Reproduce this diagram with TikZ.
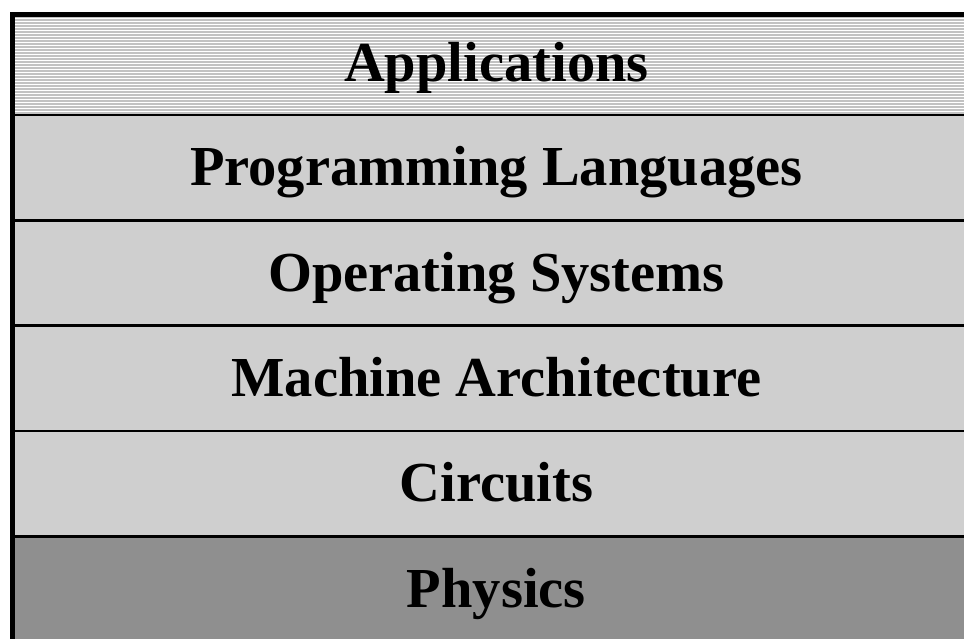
\documentclass[tikz,border=0pt]{standalone}
\usepackage{fontspec}
\setmainfont{Liberation Serif}
\usetikzlibrary{positioning}

\begin{document}
\begin{tikzpicture}[
    x=1pt, y=-1pt,
    layer/.style={rectangle,inner sep=0pt,minimum width=967.5pt,minimum height=105pt,
        text height=44pt,text depth=8pt,fill=black!19,
        font=\bfseries\fontsize{56.5}{60}\selectfont},
    toplayer/.style={layer,fill=none,minimum height=102.5pt},
    bottomlayer/.style={layer,fill=black!44},
    stripe/.style={draw=black!24,line width=1.1pt},
    divider/.style={draw=black,line width=2.6pt},
    frame/.style={draw=black,line width=5pt}
]
    \useasboundingbox (0,0) rectangle (964,639);
    \fill[white] (0,0) rectangle (964,639);

    % Stripes of the top layer
    \foreach \y in {14,17,...,113}
        \draw[stripe] (15,\y) -- (980,\y);

    % Nodes
    \node[toplayer,anchor=north west] (apps) at (12.5,12) {Applications};
    \node[layer] (lang) [below=0pt of apps] {Programming Languages};
    \node[layer] (os) [below=0pt of lang] {Operating Systems};
    \node[layer] (arch) [below=0pt of os] {Machine Architecture};
    \node[layer] (circ) [below=0pt of arch] {Circuits};
    \node[bottomlayer] (phys) [below=0pt of circ] {Physics};

    % Dividers
    \draw[divider] (apps.south west) -- (apps.south east);
    \draw[divider] (lang.south west) -- (lang.south east);
    \draw[divider] (os.south west) -- (os.south east);
    \draw[divider] (arch.south west) -- (arch.south east);
    \draw[divider] (circ.south west) -- (circ.south east);

    % Frame
    \draw[frame] (phys.south west) -- ([yshift=-2.5pt]apps.north west) -- ([yshift=-2.5pt]apps.north east);
\end{tikzpicture}
\end{document}
